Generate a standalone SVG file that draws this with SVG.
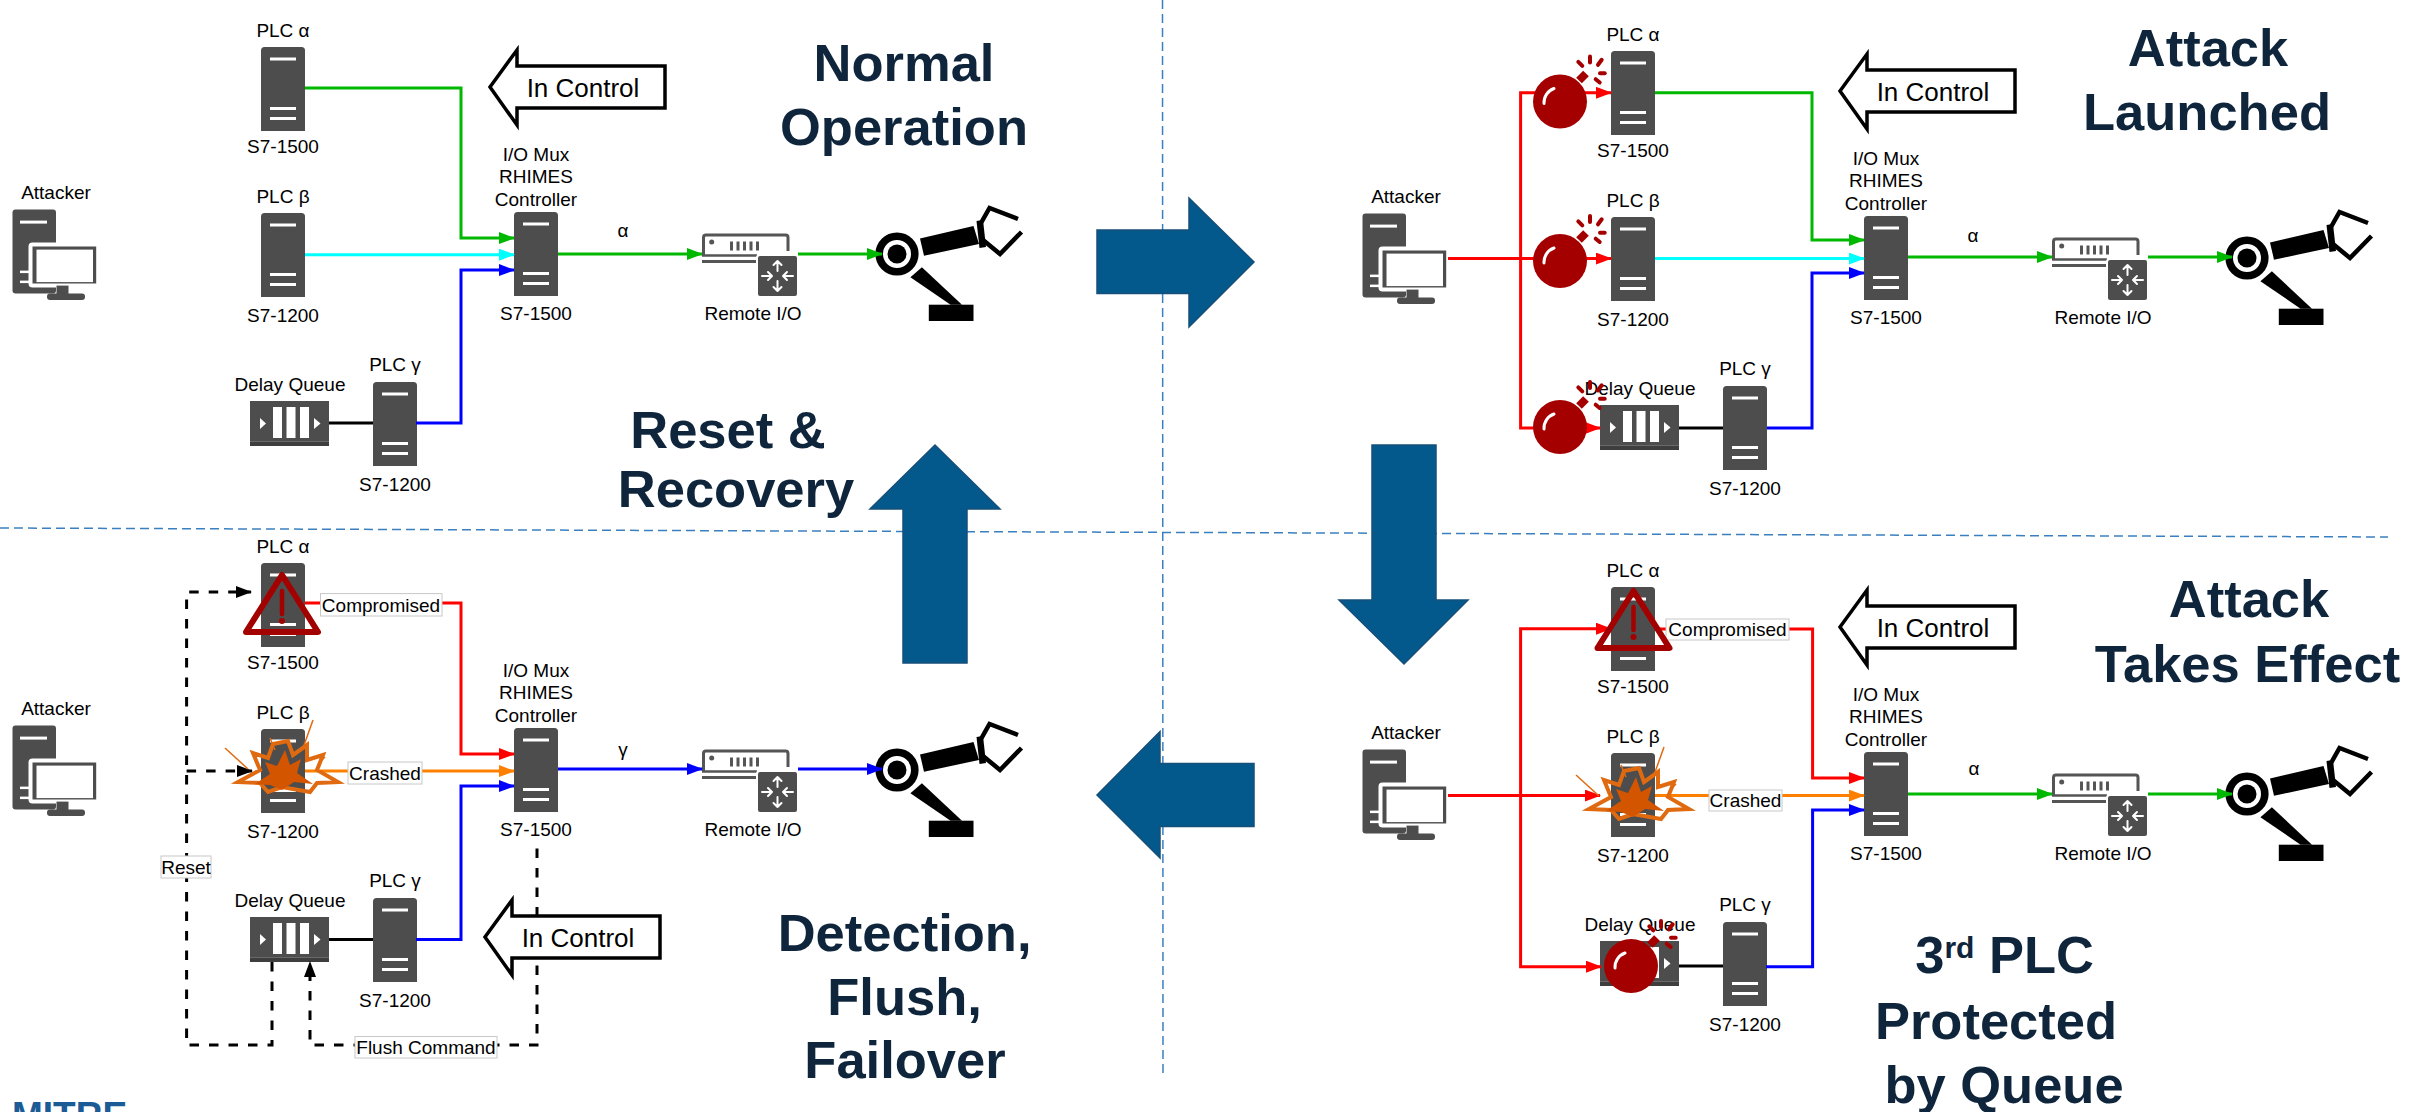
<svg xmlns="http://www.w3.org/2000/svg" xmlns:xlink="http://www.w3.org/1999/xlink" width="2421" height="1112" viewBox="0 0 2421 1112">
<style>
  text { font-family: "Liberation Sans", Arial, Helvetica, sans-serif; }
  .lbl { font-size: 19px; text-anchor: middle; fill: #000; }
  .ctl { font-size: 26px; text-anchor: middle; fill: #000; }
  .ttl { font-size: 52.5px; font-weight: bold; text-anchor: middle; fill: #0f253c; }
  .wire { fill: none; stroke-width: 3; }
  .g { stroke: #00b800; }
  .c { stroke: #00ffff; }
  .b { stroke: #0000ff; }
  .r { stroke: #ff0000; }
  .o { stroke: #ff8000; }
  .k { stroke: #000; }
  .dash { fill: none; stroke: #000; stroke-width: 3; stroke-dasharray: 9.5 10; }
  .tag { fill: #fff; stroke: #c8c8c8; stroke-width: 1; }
  .big { fill: #03588c; stroke: #164f7a; stroke-width: 1.5; }
  .sep { fill: none; stroke: #3a80c0; stroke-width: 1.5; stroke-dasharray: 9 5; }
  .ctlshape { fill: #fff; stroke: #000; stroke-width: 3.5; }
</style>
<defs>
  <marker id="mg" viewBox="0 0 16 12" refX="15" refY="6" markerWidth="16" markerHeight="12" markerUnits="userSpaceOnUse" orient="auto"><path d="M0,0 L16,6 L0,12 Z" fill="#00b800"/></marker>
  <marker id="mc" viewBox="0 0 16 12" refX="15" refY="6" markerWidth="16" markerHeight="12" markerUnits="userSpaceOnUse" orient="auto"><path d="M0,0 L16,6 L0,12 Z" fill="#00ffff"/></marker>
  <marker id="mb" viewBox="0 0 16 12" refX="15" refY="6" markerWidth="16" markerHeight="12" markerUnits="userSpaceOnUse" orient="auto"><path d="M0,0 L16,6 L0,12 Z" fill="#0000ff"/></marker>
  <marker id="mr" viewBox="0 0 16 12" refX="15" refY="6" markerWidth="16" markerHeight="12" markerUnits="userSpaceOnUse" orient="auto"><path d="M0,0 L16,6 L0,12 Z" fill="#ff0000"/></marker>
  <marker id="mo" viewBox="0 0 16 12" refX="15" refY="6" markerWidth="16" markerHeight="12" markerUnits="userSpaceOnUse" orient="auto"><path d="M0,0 L16,6 L0,12 Z" fill="#ff8000"/></marker>
  <marker id="mk" viewBox="0 0 16 12" refX="15" refY="6" markerWidth="16" markerHeight="12" markerUnits="userSpaceOnUse" orient="auto"><path d="M0,0 L16,6 L0,12 Z" fill="#000"/></marker>

  <!-- rack-style PLC / controller -->
  <g id="server">
    <path d="M0,84 V3.5 Q0,0 3.5,0 H40.5 Q44,0 44,3.5 V84 Z" fill="#4d4d4d"/>
    <rect x="9" y="10.5" width="26" height="3" fill="#fff"/>
    <rect x="9" y="60" width="26" height="3" fill="#fff"/>
    <rect x="9" y="70" width="26" height="3" fill="#fff"/>
  </g>

  <!-- workstation -->
  <g id="attacker">
    <rect x="0" y="0" width="43.5" height="84" rx="3" fill="#4d4d4d"/>
    <rect x="7.5" y="11" width="27" height="3" fill="#fff"/>
    <rect x="7.5" y="61" width="9" height="2.5" fill="#fff"/>
    <rect x="7.5" y="71" width="9" height="2.5" fill="#fff"/>
    <rect x="18" y="35" width="67.7" height="41" rx="2" fill="#4d4d4d" stroke="#fff" stroke-width="4"/>
    <rect x="24" y="40" width="56.5" height="32.5" fill="#fff"/>
    <rect x="44" y="76" width="12" height="9" fill="#4d4d4d"/>
    <rect x="34.5" y="84" width="38" height="6.5" rx="3" fill="#4d4d4d"/>
  </g>

  <!-- delay queue -->
  <g id="queue">
    <rect x="0" y="0" width="79" height="45" fill="#4d4d4d"/>
    <rect x="0" y="41" width="79" height="4" fill="#3e3e3e"/>
    <line x1="0" y1="40.5" x2="79" y2="40.5" stroke="#6a6a6a" stroke-width="1"/>
    <rect x="23" y="6" width="9" height="31" fill="#fff"/>
    <rect x="36.5" y="6" width="9" height="31" fill="#fff"/>
    <rect x="50" y="6" width="9" height="31" fill="#fff"/>
    <path d="M10,17 L16,22.5 L10,28 Z" fill="#fff"/>
    <path d="M64,17 L70.5,22.5 L64,28 Z" fill="#fff"/>
  </g>

  <!-- remote I/O module -->
  <g id="rio">
    <path d="M1.5,24 V5.5 Q1.5,3 4,3 H83.5 Q86,3 86,5.5 V19" fill="none" stroke="#555" stroke-width="3"/>
    <line x1="0" y1="23.5" x2="55" y2="23.5" stroke="#555" stroke-width="2.5"/>
    <line x1="0" y1="29.5" x2="55" y2="29.5" stroke="#555" stroke-width="3"/>
    <circle cx="9.7" cy="10" r="2.5" fill="#555"/>
    <g fill="#555">
      <rect x="28" y="9.5" width="3" height="9"/>
      <rect x="34.5" y="9.5" width="3" height="9"/>
      <rect x="41" y="9.5" width="3" height="9"/>
      <rect x="47.5" y="9.5" width="3" height="9"/>
      <rect x="54" y="9.5" width="3" height="9"/>
    </g>
    <rect x="55" y="23" width="41" height="42" rx="3" fill="#4d4d4d" stroke="#fff" stroke-width="2"/>
    <g fill="none" stroke="#fff" stroke-width="2" stroke-linecap="round" stroke-linejoin="round">
      <path d="M75.5,39 V29 M71.5,33 L75.5,29 L79.5,33"/>
      <path d="M75.5,49 V59 M71.5,55 L75.5,59 L79.5,55"/>
      <path d="M60,44 H70 M66,40 L70,44 L66,48"/>
      <path d="M91,44 H81 M85,40 L81,44 L85,48"/>
    </g>
  </g>

  <!-- robot arm -->
  <g id="robot">
    <path d="M23,-15.6 L76.5,-28 L82,-10 L27,1.7 Z" fill="#000"/>
    <path d="M79.5,-33 L86,-34 L89,-7 L82.5,-6 Z" fill="#000"/>
    <path d="M84,-31 L92.5,-46 L121,-35" fill="none" stroke="#000" stroke-width="4.5"/>
    <path d="M86,-14 L103,0 L124.5,-22" fill="none" stroke="#000" stroke-width="4.5"/>
    <path d="M13.4,23.2 L24.9,13.3 L65,50.7 L53.6,50.7 Z" fill="#000"/>
    <rect x="31.8" y="50.7" width="44.7" height="16.3" fill="#000"/>
    <circle cx="0" cy="0" r="17.8" fill="#fff" stroke="#000" stroke-width="7.6"/>
    <circle cx="0" cy="0" r="9.5" fill="#000"/>
  </g>

  <!-- bomb -->
  <g id="bomb">
    <line x1="19" y1="-21" x2="26" y2="-28" stroke="#a50000" stroke-width="8"/>
    <circle cx="0" cy="0" r="27" fill="#a50000"/>
    <path d="M-16,2 A15,15 0 0 1 -6,-13" fill="none" stroke="#fff" stroke-width="3" stroke-linecap="round"/>
    <g stroke="#a50000" stroke-width="4" stroke-linecap="round">
      <line x1="18.3" y1="-39.7" x2="22.3" y2="-35.7"/>
      <line x1="30" y1="-45" x2="30" y2="-39"/>
      <line x1="41.7" y1="-41.7" x2="38" y2="-36.7"/>
      <line x1="40" y1="-28.3" x2="44.7" y2="-28.3"/>
      <line x1="35.7" y1="-22.3" x2="39.7" y2="-19"/>
    </g>
  </g>

  <!-- crash burst -->
  <g id="boom">
    <g stroke="#e06a10" stroke-width="1.5">
      <line x1="-57" y1="-22" x2="-34" y2="-1"/>
      <line x1="31" y1="-50" x2="21" y2="-22"/>
      <line x1="43" y1="-13" x2="37" y2="-7"/>
      <line x1="-12" y1="-32" x2="-7" y2="-20"/>
    </g>
    <path d="M-44,12 L-22,0 L-29,-17 L-14,-12 L-9,-26 L6,-29 L11,-15 L25,-25 L25,-10 L41,-15 L35,0 L56,12 L35,13 L28,22 L0,17 L-14,22 L-22,13 Z" fill="none" stroke="#e06a10" stroke-width="4"/>
    <path d="M-27,14 L-12,4 L-17,-8 L-5,-4 L3,-20 L8,-5 L19,-11 L15,3 L31,14 L12,12 L0,20 L-12,15 Z" fill="#d45500"/>
  </g>

  <!-- compromised warning -->
  <g id="warn">
    <path d="M0,0 L36,57 L-36,57 Z" fill="none" stroke="#a30000" stroke-width="6" stroke-linejoin="round"/>
    <line x1="0" y1="16" x2="0" y2="39" stroke="#a30000" stroke-width="4.5" stroke-linecap="round"/>
    <circle cx="0" cy="46" r="3" fill="#a30000"/>
  </g>

  <!-- "In Control" pointer outline -->
  <path id="ctlarrow" d="M0,0 L27,-37 L27,-21 L175,-21 L175,21 L27,21 L27,38 Z"/>
</defs>

<rect width="2421" height="1112" fill="#fff"/>

<!-- quadrant separators -->
<g id="separators">
  <line class="sep" x1="1162.5" y1="0" x2="1163" y2="1075"/>
  <line class="sep" x1="0" y1="528" x2="2388" y2="537"/>
</g>

<!-- stage arrows between quadrants -->
<g id="stage-arrows">
  <polygon id="arrow-right" class="big" points="1097,230 1189,230 1189,198 1254,262 1189,327 1189,293.5 1097,293.5"/>
  <polygon id="arrow-down" class="big" points="1372,445 1436,445 1436,600 1468,600 1404,664 1339,600 1372,600"/>
  <polygon id="arrow-left" class="big" points="1254,763.5 1160,763.5 1160,731.5 1097,795 1160,858 1160,826.6 1254,826.6"/>
  <polygon id="arrow-up" class="big" points="903,663 903,509 870,509 935,445 1000,509 967,509 967,663"/>
</g>

<!-- ===== nodes: normal operation ===== -->
<g id="normal">
  <g id="n-attacker"><use href="#attacker" x="12.5" y="209.6"/><text class="lbl" x="56" y="199">Attacker</text></g>
  <g id="n-plc-alpha"><text class="lbl" x="283" y="36.5">PLC α</text><use href="#server" x="261" y="47"/><text class="lbl" x="283" y="152.5">S7-1500</text></g>
  <g id="n-plc-beta"><text class="lbl" x="283" y="203">PLC β</text><use href="#server" x="261" y="213"/><text class="lbl" x="283" y="321.5">S7-1200</text></g>
  <g id="n-queue"><text class="lbl" x="290" y="391">Delay Queue</text><use href="#queue" x="250" y="401"/></g>
  <g id="n-plc-gamma"><text class="lbl" x="395" y="371">PLC γ</text><use href="#server" x="373" y="382"/><text class="lbl" x="395" y="491">S7-1200</text></g>
  <g id="n-mux"><text class="lbl" x="536" y="161">I/O Mux</text><text class="lbl" x="536" y="183">RHIMES</text><text class="lbl" x="536" y="205.5">Controller</text><use href="#server" x="514" y="212"/><text class="lbl" x="536" y="320">S7-1500</text></g>
  <g id="n-remote-io"><use href="#rio" x="702" y="232"/><text class="lbl" x="753" y="320">Remote I/O</text></g>
  <g id="n-robot"><use href="#robot" x="897" y="254"/></g>
</g>

<!-- ===== nodes: attack launched ===== -->
<g id="launched" transform="translate(1350,4)">
  <g id="l-attacker"><use href="#attacker" x="12.5" y="209.6"/><text class="lbl" x="56" y="199">Attacker</text></g>
  <g id="l-plc-alpha"><text class="lbl" x="283" y="36.5">PLC α</text><use href="#server" x="261" y="47"/><text class="lbl" x="283" y="152.5">S7-1500</text></g>
  <g id="l-plc-beta"><text class="lbl" x="283" y="203">PLC β</text><use href="#server" x="261" y="213"/><text class="lbl" x="283" y="321.5">S7-1200</text></g>
  <g id="l-queue"><text class="lbl" x="290" y="391">Delay Queue</text><use href="#queue" x="250" y="401"/></g>
  <g id="l-plc-gamma"><text class="lbl" x="395" y="371">PLC γ</text><use href="#server" x="373" y="382"/><text class="lbl" x="395" y="491">S7-1200</text></g>
  <g id="l-mux"><text class="lbl" x="536" y="161">I/O Mux</text><text class="lbl" x="536" y="183">RHIMES</text><text class="lbl" x="536" y="205.5">Controller</text><use href="#server" x="514" y="212"/><text class="lbl" x="536" y="320">S7-1500</text></g>
  <g id="l-remote-io"><use href="#rio" x="702" y="232"/><text class="lbl" x="753" y="320">Remote I/O</text></g>
  <g id="l-robot"><use href="#robot" x="897" y="254"/></g>
</g>

<!-- ===== nodes: attack takes effect ===== -->
<g id="effect" transform="translate(1350,540)">
  <g id="e-attacker"><use href="#attacker" x="12.5" y="209.6"/><text class="lbl" x="56" y="199">Attacker</text></g>
  <g id="e-plc-alpha"><text class="lbl" x="283" y="36.5">PLC α</text><use href="#server" x="261" y="47"/><text class="lbl" x="283" y="152.5">S7-1500</text></g>
  <g id="e-plc-beta"><text class="lbl" x="283" y="203">PLC β</text><use href="#server" x="261" y="213"/><text class="lbl" x="283" y="321.5">S7-1200</text></g>
  <g id="e-queue"><text class="lbl" x="290" y="391">Delay Queue</text><use href="#queue" x="250" y="401"/></g>
  <g id="e-plc-gamma"><text class="lbl" x="395" y="371">PLC γ</text><use href="#server" x="373" y="382"/><text class="lbl" x="395" y="491">S7-1200</text></g>
  <g id="e-mux"><text class="lbl" x="536" y="161">I/O Mux</text><text class="lbl" x="536" y="183">RHIMES</text><text class="lbl" x="536" y="205.5">Controller</text><use href="#server" x="514" y="212"/><text class="lbl" x="536" y="320">S7-1500</text></g>
  <g id="e-remote-io"><use href="#rio" x="702" y="232"/><text class="lbl" x="753" y="320">Remote I/O</text></g>
  <g id="e-robot"><use href="#robot" x="897" y="254"/></g>
</g>

<!-- ===== nodes: detection / flush / failover ===== -->
<g id="failover" transform="translate(0,516)">
  <g id="f-attacker"><use href="#attacker" x="12.5" y="209.6"/><text class="lbl" x="56" y="199">Attacker</text></g>
  <g id="f-plc-alpha"><text class="lbl" x="283" y="36.5">PLC α</text><use href="#server" x="261" y="47"/><text class="lbl" x="283" y="152.5">S7-1500</text></g>
  <g id="f-plc-beta"><text class="lbl" x="283" y="203">PLC β</text><use href="#server" x="261" y="213"/><text class="lbl" x="283" y="321.5">S7-1200</text></g>
  <g id="f-queue"><text class="lbl" x="290" y="391">Delay Queue</text><use href="#queue" x="250" y="401"/></g>
  <g id="f-plc-gamma"><text class="lbl" x="395" y="371">PLC γ</text><use href="#server" x="373" y="382"/><text class="lbl" x="395" y="491">S7-1200</text></g>
  <g id="f-mux"><text class="lbl" x="536" y="161">I/O Mux</text><text class="lbl" x="536" y="183">RHIMES</text><text class="lbl" x="536" y="205.5">Controller</text><use href="#server" x="514" y="212"/><text class="lbl" x="536" y="320">S7-1500</text></g>
  <g id="f-remote-io"><use href="#rio" x="702" y="232"/><text class="lbl" x="753" y="320">Remote I/O</text></g>
  <g id="f-robot"><use href="#robot" x="897" y="254"/></g>
</g>

<!-- ===== connectors ===== -->
<g id="connectors">
  <g id="c-normal">
    <path class="wire g" d="M305,88 H461 V238 H514" marker-end="url(#mg)"/>
    <path class="wire c" d="M305,254.7 H514" marker-end="url(#mc)"/>
    <path class="wire b" d="M416,423 H461 V270 H514" marker-end="url(#mb)"/>
    <path class="wire k" d="M329,423 H373"/>
    <path class="wire g" d="M558,254 H702" marker-end="url(#mg)"/>
    <path class="wire g" d="M798,254 H882" marker-end="url(#mg)"/>
    <text class="lbl" x="623" y="237">α</text>
  </g>
  <g id="c-launched" transform="translate(1350,4)">
    <path class="wire r" d="M98,254.6 H261" marker-end="url(#mr)"/>
    <path class="wire r" d="M170.6,254.6 V88.8 H261" marker-end="url(#mr)"/>
    <path class="wire r" d="M170.6,254.6 V424 H250" marker-end="url(#mr)"/>
    <path class="wire g" d="M305,88.8 H462 V236 H514" marker-end="url(#mg)"/>
    <path class="wire c" d="M305,254.6 H514" marker-end="url(#mc)"/>
    <path class="wire b" d="M417,424 H462 V269 H514" marker-end="url(#mb)"/>
    <path class="wire k" d="M329,424 H373"/>
    <path class="wire g" d="M558,253 H702" marker-end="url(#mg)"/>
    <path class="wire g" d="M798,253 H882" marker-end="url(#mg)"/>
    <text class="lbl" x="623" y="238">α</text>
  </g>
  <g id="c-effect" transform="translate(1350,540)">
    <path class="wire r" d="M98,255.6 H250" marker-end="url(#mr)"/>
    <path class="wire r" d="M170.6,255.6 V88.7 H261" marker-end="url(#mr)"/>
    <path class="wire r" d="M170.6,255.6 V426.7 H251" marker-end="url(#mr)"/>
    <path class="wire r" d="M305,89 H462.6 V238 H514" marker-end="url(#mr)"/>
    <path class="wire o" d="M305,255.6 H514" marker-end="url(#mo)"/>
    <path class="wire b" d="M416,426.7 H462.6 V270 H514" marker-end="url(#mb)"/>
    <path class="wire k" d="M329,426 H373"/>
    <path class="wire g" d="M558,254 H702" marker-end="url(#mg)"/>
    <path class="wire g" d="M798,254 H882" marker-end="url(#mg)"/>
    <text class="lbl" x="624" y="235">α</text>
    <rect class="tag" x="316" y="79" width="123" height="21"/>
    <text class="lbl" x="377.5" y="95.5">Compromised</text>
    <rect class="tag" x="359" y="250" width="73" height="21"/>
    <text class="lbl" x="395.5" y="266.5">Crashed</text>
  </g>
  <g id="c-failover" transform="translate(0,516)">
    <path class="wire r" d="M305,87 H461 V238 H514" marker-end="url(#mr)"/>
    <path class="wire o" d="M305,255 H514" marker-end="url(#mo)"/>
    <path class="wire b" d="M416,423.5 H461 V270 H514" marker-end="url(#mb)"/>
    <path class="wire k" d="M329,423.5 H373"/>
    <path class="wire b" d="M558,253 H702" marker-end="url(#mb)"/>
    <path class="wire b" d="M798,253 H882" marker-end="url(#mb)"/>
    <text class="lbl" x="623" y="240">γ</text>
    <!-- reset loop -->
    <path class="dash" d="M272,446 V529 H186.6 V76 H251" marker-end="url(#mk)"/>
    <path class="dash" d="M186.6,255 H252" marker-end="url(#mk)"/>
    <!-- flush command loop -->
    <path class="dash" d="M537,332.5 V529 H310 V446" marker-end="url(#mk)"/>
    <rect class="tag" x="320.5" y="77.6" width="121.5" height="22.4"/>
    <text class="lbl" x="381" y="95.5">Compromised</text>
    <rect class="tag" x="348" y="246" width="74" height="22"/>
    <text class="lbl" x="385" y="263.5">Crashed</text>
    <rect class="tag" x="161" y="340" width="50" height="22"/>
    <text class="lbl" x="186" y="357.5">Reset</text>
    <rect class="tag" x="355" y="520.5" width="142" height="21.5"/>
    <text class="lbl" x="426" y="537.5">Flush Command</text>
  </g>
</g>

<!-- ===== status markers and control pointers ===== -->
<g id="status">
  <g id="n-in-control"><use href="#ctlarrow" class="ctlshape" x="490" y="87"/><text class="ctl" x="583" y="97">In Control</text></g>
  <g id="l-in-control" transform="translate(1350,4)"><use href="#ctlarrow" class="ctlshape" x="490" y="87"/><text class="ctl" x="583" y="97">In Control</text></g>
  <g id="l-bomb-alpha"><use href="#bomb" x="1560" y="101.5"/></g>
  <g id="l-bomb-beta"><use href="#bomb" x="1560" y="261"/></g>
  <g id="l-bomb-queue"><use href="#bomb" x="1560" y="427"/></g>

  <g id="e-in-control" transform="translate(1350,540)"><use href="#ctlarrow" class="ctlshape" x="490" y="87"/><text class="ctl" x="583" y="97">In Control</text></g>
  <g id="e-warn-alpha"><use href="#warn" x="1633.5" y="591"/></g>
  <g id="e-boom-beta"><use href="#boom" x="1633" y="797"/></g>
  <g id="e-bomb-queue"><use href="#bomb" x="1631" y="966"/></g>

  <g id="f-warn-alpha"><use href="#warn" x="282" y="575"/></g>
  <g id="f-boom-beta"><use href="#boom" x="282" y="770"/></g>
  <g id="f-in-control" transform="translate(0,516)"><use href="#ctlarrow" class="ctlshape" x="485" y="421"/><text class="ctl" x="578" y="431.4">In Control</text></g>
</g>

<!-- ===== stage titles ===== -->
<g id="titles">
  <text class="ttl" x="904" y="81">Normal</text>
  <text class="ttl" x="904" y="145">Operation</text>
  <text class="ttl" x="2208" y="66">Attack</text>
  <text class="ttl" x="2207" y="130">Launched</text>
  <text class="ttl" x="2249" y="617">Attack</text>
  <text class="ttl" x="2247.5" y="681.6">Takes Effect</text>
  <text class="ttl" x="2004.6" y="973">3<tspan font-size="30" dy="-15">rd</tspan><tspan dy="15"> PLC</tspan></text>
  <text class="ttl" x="1996" y="1039">Protected</text>
  <text class="ttl" x="2004" y="1103">by Queue</text>
  <text class="ttl" x="904.6" y="950.5">Detection,</text>
  <text class="ttl" x="904.6" y="1014.6">Flush,</text>
  <text class="ttl" x="905" y="1078">Failover</text>
  <text class="ttl" x="728" y="447.7">Reset &amp;</text>
  <text class="ttl" x="736" y="507">Recovery</text>
</g>

<text x="12" y="1128" font-size="37" font-weight="bold" fill="#1b5b96">MITRE</text>
</svg>
